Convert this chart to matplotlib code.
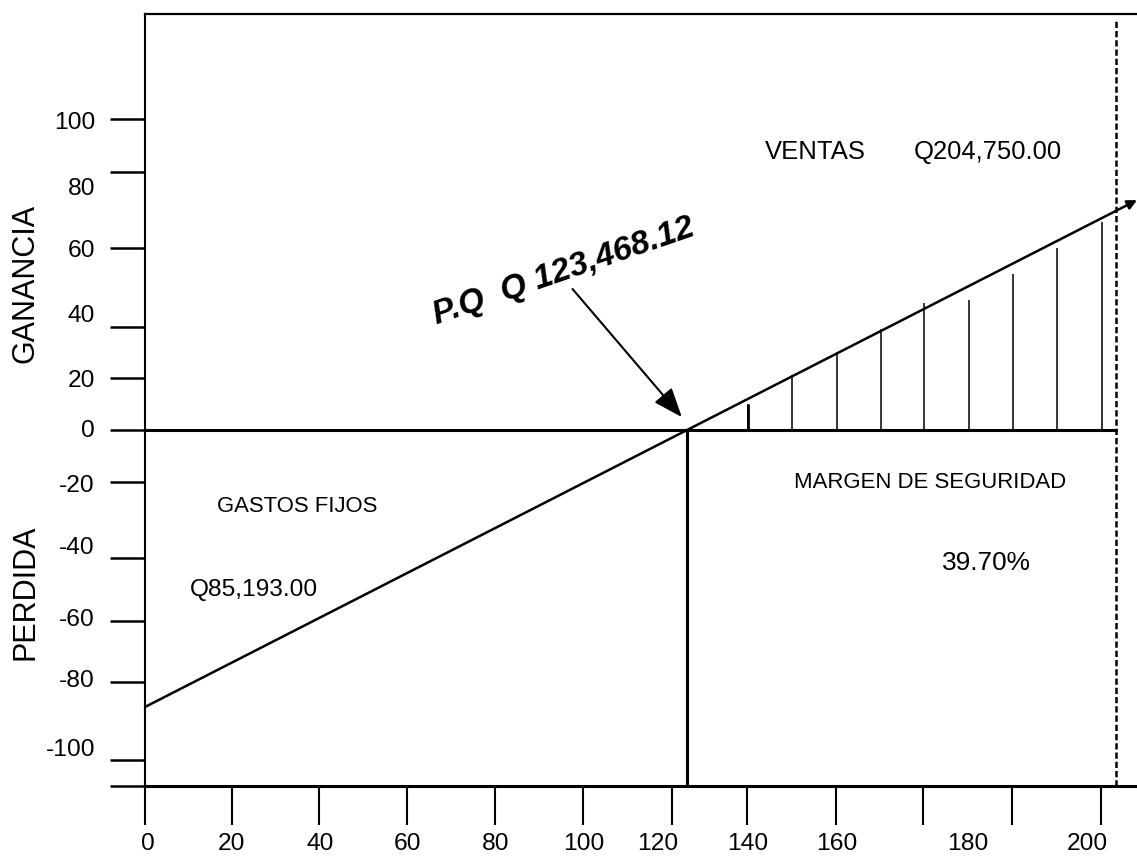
import matplotlib.pyplot as plt
from matplotlib import font_manager

# datos del punto de equilibrio (miles de Q)
gastos_fijos = 85.193
punto_equilibrio = 123.468
ventas_x = 221.2  # donde esta dibujada la linea de ventas en la grafica

# eje x: marcas y etiquetas (la grafica original no esta a escala)
x_marcas = [0, 19.8, 39.6, 59.7, 79.7, 99.8, 120, 137.1, 157.4, 177.2, 197.5, 217.8]
x_etiq_pos = [0.7, 19.8, 39.9, 59.9, 79.9, 100, 116.8, 137.4, 157.6, 187.5, 214.6]
x_etiquetas = ["0", "20", "40", "60", "80", "100", "120", "140", "160", "180", "200"]

# eje y
y_marcas = [95.6, 79.5, 56, 31.8, 16.1, 0, -15.9, -39.3, -58.8, -77.5, -101.5, -109.5]
y_etiq_pos = [95.1, 74.8, 56, 36, 16, 0.6, -16.3, -35.4, -57.8, -76.3, -97.8]
y_etiquetas = ["100", "80", "60", "40", "20", "0", "-20", "-40", "-60", "-80", "-100"]

# rayado del margen de seguridad
rayas_x = [137.4, 147.4, 157.6, 167.7, 177.4, 187.7, 197.7, 207.7, 218]
rayas_y = [8, 17, 24, 31, 39, 40, 48, 56, 64]

nombres = {f.name for f in font_manager.fontManager.ttflist}
angosta = "Liberation Sans Narrow" if "Liberation Sans Narrow" in nombres else "Liberation Sans"
escala = 1.0 if angosta == "Liberation Sans Narrow" else 0.86
normal = "Liberation Sans"

fig = plt.figure(figsize=(11.37, 8.59), dpi=100)
ax = fig.add_axes([145 / 1137, 1 - 786 / 859, (1137 - 145) / 1137, (786 - 14) / 859])
ax.set_xlim(0, 226)
ax.set_ylim(-109.5, 128)

ax.spines["right"].set_visible(False)
ax.spines["left"].set_linewidth(1.5)
ax.spines["top"].set_linewidth(1.6)
ax.spines["bottom"].set_linewidth(2.2)

# marcas (menores) y etiquetas (mayores)
ax.xaxis.remove_overlapping_locs = False
ax.yaxis.remove_overlapping_locs = False
ax.set_xticks(x_marcas, minor=True)
ax.set_xticks(x_etiq_pos, x_etiquetas)
ax.set_yticks(y_marcas, minor=True)
ax.set_yticks(y_etiq_pos, y_etiquetas)
ax.tick_params(axis="x", which="minor", length=28, width=1.5, direction="out")
ax.tick_params(axis="y", which="minor", length=25, width=1.8, direction="out")
ax.tick_params(axis="x", which="major", length=0, pad=34)
ax.tick_params(axis="y", which="major", length=0, pad=36)
for lab in ax.get_xticklabels() + ax.get_yticklabels():
    lab.set_fontfamily(angosta)
    lab.set_fontsize(20.5 * escala)

# linea cero
ax.plot([0, ventas_x], [0, 0], color="black", lw=2.2)

# linea de ventas con flecha
pendiente = gastos_fijos / punto_equilibrio
x_fin = 226
ax.annotate("", xy=(x_fin, pendiente * (x_fin - punto_equilibrio)), xytext=(0, -gastos_fijos),
            arrowprops=dict(arrowstyle="-|>", color="black", lw=1.8, mutation_scale=14,
                            shrinkA=0, shrinkB=0),
            annotation_clip=False)

# punto de equilibrio vertical
ax.plot([punto_equilibrio, punto_equilibrio], [0, -109.5], color="black", lw=2.2)

# rayado
ax.vlines(rayas_x, 0, rayas_y, color="black", lw=1.1)
ax.vlines(rayas_x[:1], 0, rayas_y[:1], color="black", lw=2)

# ventas (linea punteada)
ax.plot([ventas_x, ventas_x], [-109.5, 126], color="black", lw=1.8, linestyle=(0, (2.5, 1.2)))

# flecha P.Q
ax.annotate("", xy=(122.3, 4.0), xytext=(97.4, 43.4),
            arrowprops=dict(arrowstyle="-|>,head_length=0.9,head_width=0.35", color="black",
                            lw=1.5, mutation_scale=20, shrinkA=0, shrinkB=0))
ax.text(95.4, 48.6, "P.Q  Q 123,468.12", rotation=19, ha="center", va="center",
        fontsize=28 * escala, fontweight="bold", fontstyle="italic", family=angosta)

ax.text(34.7, -23.4, "GASTOS FIJOS", ha="center", va="center", fontsize=18.5 * escala, family=angosta)
ax.text(24.8, -49.2, "Q85,193.00", ha="center", va="center", fontsize=20.5 * escala, family=angosta)
ax.text(152.8, 85.5, "VENTAS", ha="center", va="center", fontsize=21.5 * escala, family=angosta)
ax.text(192.1, 85.5, "Q204,750.00", ha="center", va="center", fontsize=21.5 * escala, family=angosta)
ax.text(178.9, -16, "MARGEN DE SEGURIDAD", ha="center", va="center", fontsize=18.5 * escala, family=angosta)
ax.text(191.8, -40.9, "39.70%", ha="center", va="center", fontsize=22 * escala, family=angosta)

fig.text(26 / 1137, 1 - 283 / 859, "GANANCIA", rotation=90, ha="center", va="center",
         fontsize=22, family=normal)
fig.text(26 / 1137, 1 - 592 / 859, "PERDIDA", rotation=90, ha="center", va="center",
         fontsize=22, family=normal)

fig.savefig("out.png", dpi=100)
